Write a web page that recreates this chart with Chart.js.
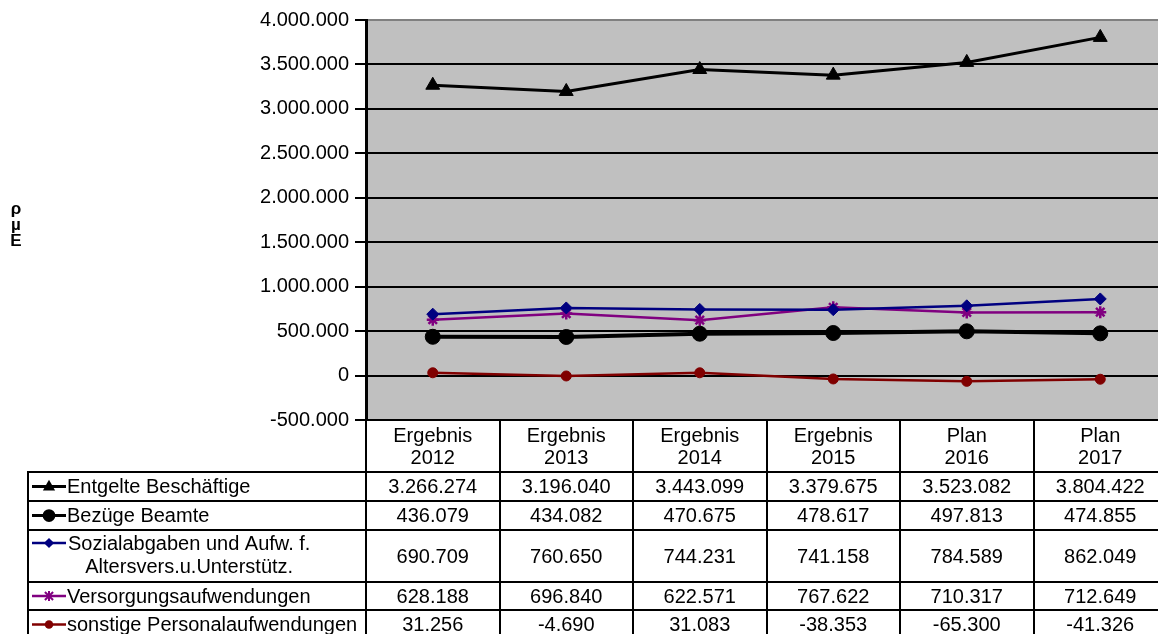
<!DOCTYPE html>
<html>
<head>
<meta charset="utf-8">
<script src="https://cdn.jsdelivr.net/npm/chart.js@4/dist/chart.umd.min.js"></script>
<style>
  html, body { margin: 0; padding: 0; overflow: hidden; background: #fff; }
  #wrap { width: 1158px; height: 634px; overflow: hidden; position: relative; }
</style>
</head>
<body>
<div id="wrap"><canvas id="c" width="1176" height="634"></canvas></div>
<script>
// Kategorien und Werte (aus der Datentabelle)
const categories = ['Ergebnis 2012', 'Ergebnis 2013', 'Ergebnis 2014', 'Ergebnis 2015', 'Plan 2016', 'Plan 2017'];
const seriesNames = [
  'Entgelte Beschäftige',
  'Bezüge Beamte',
  'Sozialabgaben und Aufw. f.\nAltersvers.u.Unterstütz.',
  'Versorgungsaufwendungen',
  'sonstige Personalaufwendungen'
];
const entgelte = [3266274, 3196040, 3443099, 3379675, 3523082, 3804422];
const bezuege = [436079, 434082, 470675, 478617, 497813, 474855];
const sozial = [690709, 760650, 744231, 741158, 784589, 862049];
const versorgung = [628188, 696840, 622571, 767622, 710317, 712649];
const sonstige = [31256, -4690, 31083, -38353, -65300, -41326];
const yMin = -500000, yMax = 4000000, yStep = 500000;
const yTitle = ['ρ', 'µ', 'E'];

const FONT = '"Liberation Sans", Arial, sans-serif';
const rowHeights = [29, 29, 52, 28, 29];

function fmt(v) {
  const s = Math.abs(v).toString().replace(/\B(?=(\d{3})+(?!\d))/g, '.');
  return (v < 0 ? '-' : '') + s;
}

const styles = [
  { color: '#000000', width: 3, point: 'triangle', r: 8 },
  { color: '#000000', width: 4, point: 'circle', r: 7.5 },
  { color: '#000080', width: 2.5, point: 'rectRot', r: 6 },
  { color: '#800080', width: 2.5, point: 'star', r: 6 },
  { color: '#800000', width: 2.5, point: 'circle', r: 5 }
];
const seriesData = [entgelte, bezuege, sozial, versorgung, sonstige];

function drawMarker(ctx, st, x, y, r) {
  ctx.save();
  ctx.fillStyle = st.color;
  ctx.strokeStyle = st.color;
  ctx.lineWidth = 2;
  ctx.beginPath();
  if (st.point === 'triangle') {
    ctx.moveTo(x, y - r); ctx.lineTo(x + r * 0.9, y + r * 0.6); ctx.lineTo(x - r * 0.9, y + r * 0.6); ctx.closePath(); ctx.fill();
  } else if (st.point === 'circle') {
    ctx.arc(x, y, r, 0, Math.PI * 2); ctx.fill();
  } else if (st.point === 'rectRot') {
    ctx.moveTo(x, y - r); ctx.lineTo(x + r, y); ctx.lineTo(x, y + r); ctx.lineTo(x - r, y); ctx.closePath(); ctx.fill();
  } else if (st.point === 'star') {
    ctx.moveTo(x, y - r); ctx.lineTo(x, y + r);
    ctx.moveTo(x - r * 0.8, y - r * 0.8); ctx.lineTo(x + r * 0.8, y + r * 0.8);
    ctx.moveTo(x + r * 0.8, y - r * 0.8); ctx.lineTo(x - r * 0.8, y + r * 0.8);
    ctx.stroke();
  }
  ctx.restore();
}

const tablePlugin = {
  id: 'dataTable',
  beforeDraw(chart) {
    const { ctx, chartArea: a } = chart;
    ctx.save();
    ctx.fillStyle = '#c0c0c0';
    ctx.fillRect(a.left, a.top, a.right - a.left, a.bottom - a.top);
    ctx.restore();
  },
  afterDraw(chart) {
    const { ctx, chartArea: a, scales: { x } } = chart;
    const colW = (a.right - a.left) / categories.length;
    const legendLeft = 28;
    const headerBottom = a.bottom + 52;
    const H = chart.height;
    ctx.save();
    ctx.strokeStyle = '#000';
    ctx.lineWidth = 2;
    // vertical lines
    for (let i = 0; i <= categories.length; i++) {
      const xi = Math.round(a.left + i * colW);
      ctx.beginPath(); ctx.moveTo(xi, a.bottom); ctx.lineTo(xi, H); ctx.stroke();
    }
    ctx.beginPath(); ctx.moveTo(legendLeft, headerBottom); ctx.lineTo(legendLeft, H); ctx.stroke();
    // horizontal lines
    let yy = headerBottom;
    const rowTops = [];
    for (let r = 0; r <= rowHeights.length; r++) {
      ctx.beginPath(); ctx.moveTo(legendLeft - 1, yy); ctx.lineTo(a.right, yy); ctx.stroke();
      rowTops.push(yy);
      if (r < rowHeights.length) yy += rowHeights[r];
    }
    ctx.fillStyle = '#000';
    ctx.font = '20px ' + FONT;
    ctx.textBaseline = 'middle';
    ctx.textAlign = 'center';
    // header
    categories.forEach((c, i) => {
      const cx = x.getPixelForValue(i);
      const parts = c.split(' ');
      ctx.fillText(parts[0], cx, a.bottom + 16);
      ctx.fillText(parts[1], cx, a.bottom + 38);
    });
    // rows
    seriesData.forEach((vals, r) => {
      const cy = rowTops[r] + rowHeights[r] / 2;
      ctx.textAlign = 'center';
      vals.forEach((v, i) => ctx.fillText(fmt(v), x.getPixelForValue(i), cy + 1));
      const st = styles[r];
      ctx.save();
      ctx.strokeStyle = st.color;
      ctx.lineWidth = Math.min(st.width, 3);
      const my = rowTops[r] + (seriesNames[r].includes('\n') ? 13 : rowHeights[r] / 2);
      ctx.beginPath(); ctx.moveTo(32, my); ctx.lineTo(66, my); ctx.stroke();
      ctx.restore();
      drawMarker(ctx, st, 49, my, st.r * 0.85);
      const lines = seriesNames[r].split('\n');
      if (lines.length === 1) {
        ctx.textAlign = 'left';
        ctx.fillText(lines[0], 67, cy + 1);
      } else {
        const w = Math.max(...lines.map(l => ctx.measureText(l).width));
        const center = 68 + w / 2;
        ctx.textAlign = 'center';
        lines.forEach((l, k) => ctx.fillText(l, center, rowTops[r] + 14 + k * 23));
      }
    });
    // y axis title
    ctx.font = 'bold 17px ' + FONT;
    ctx.textAlign = 'center';
    yTitle.forEach((ch, k) => ctx.fillText(ch, 16, 209 + k * 16));
    ctx.restore();
  }
};

new Chart(document.getElementById('c'), {
  type: 'line',
  data: {
    labels: categories,
    datasets: seriesData.map((d, i) => ({
      label: seriesNames[i].replace('\n', ' '),
      data: d,
      borderColor: styles[i].color,
      backgroundColor: styles[i].color,
      borderWidth: styles[i].width,
      pointStyle: styles[i].point,
      pointRadius: styles[i].r,
      pointBorderWidth: styles[i].point === 'star' ? 2.5 : 1,
      pointHoverRadius: styles[i].r,
      tension: 0,
      fill: false
    }))
  },
  options: {
    responsive: false,
    animation: false,
    devicePixelRatio: 1,
    layout: { padding: { left: 0, top: 20, right: 0, bottom: 214 } },
    plugins: { legend: { display: false }, tooltip: { enabled: false } },
    scales: {
      x: { display: false, offset: true },
      y: {
        min: yMin, max: yMax,
        afterFit(scale) { scale.width = 366; },
        border: { display: true, color: '#000', width: 3 },
        grid: {
          color: (c) => (c.tick && c.tick.value === yMax ? '#808080' : '#000'),
          lineWidth: 2,
          tickColor: '#000',
          tickLength: 11
        },
        ticks: {
          stepSize: yStep,
          padding: 6,
          color: '#000',
          font: { family: FONT, size: 20 },
          callback: (v) => fmt(v)
        }
      }
    }
  },
  plugins: [tablePlugin]
});
</script>
</body>
</html>
